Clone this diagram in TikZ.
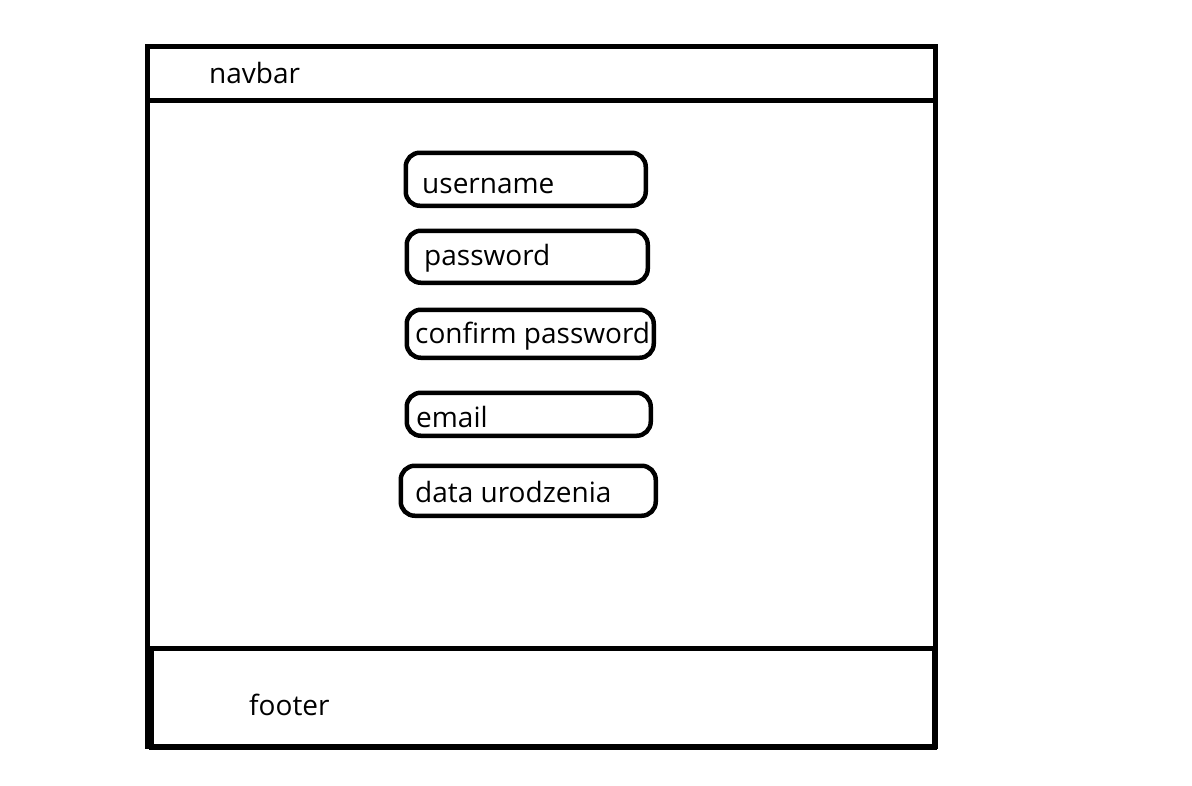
\documentclass[tikz,border=0pt]{standalone}
\usepackage{fontspec}
\setmainfont{Open Sans}
\usepackage{tikz}

\begin{document}
\begin{tikzpicture}[x=1pt,y=-1pt]
            \useasboundingbox (0,0) rectangle (1192,785);

            \begin{scope}[every node/.style={draw,line width=5pt,inner sep=0pt,anchor=north west}]
                \node (page) [minimum width=788pt,minimum height=700pt] at (144.5,43.5) {};
                \node (nav) [minimum width=788pt,minimum height=54pt] at (144.5,43.5) {};
                \node (foot) [minimum width=783pt,minimum height=99pt] at (149,646) {};
            \end{scope}

            \begin{scope}[every node/.style={draw,line width=4.5pt,rounded corners=14pt,inner sep=0pt,anchor=north west}]
                \node (user) [minimum width=240pt,minimum height=53pt] at (403.5,150.5) {};
                \node (pass) [minimum width=241pt,minimum height=52pt] at (404.5,228.5) {};
                \node (conf) [minimum width=247pt,minimum height=48pt] at (404.5,307.5) {};
                \node (mail) [minimum width=244pt,minimum height=43pt] at (404.5,390.5) {};
                \node (birth) [minimum width=255pt,minimum height=50pt] at (398.5,463.5) {};
            \end{scope}

            \begin{scope}[every node/.style={inner sep=0pt,anchor=base west,font=\fontsize{28}{33}\selectfont}]
                \node (nav-t) at (209,83) {navbar};
                \node (user-t) at (422,193) {username};
                \node (pass-t) at (424,265) {password};
                \node (conf-t) at (415,343) {confirm password};
                \node (mail-t) at (416,427) {email};
                \node (birth-t) at (415,502) {data urodzenia};
                \node (foot-t) at (249,715) {footer};
            \end{scope}
        \end{tikzpicture}
\end{document}
